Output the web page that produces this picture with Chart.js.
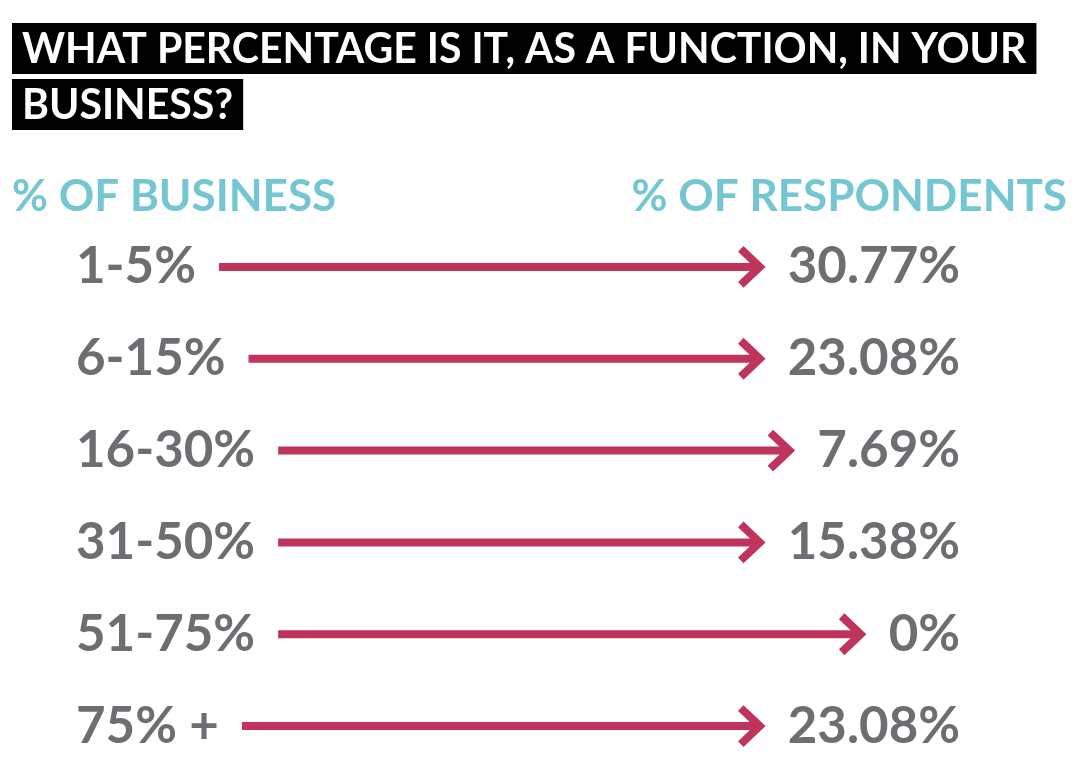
<!DOCTYPE html>
<html>
<head>
<meta charset="utf-8">
<script src="https://cdn.jsdelivr.net/npm/chart.js@4"></script>
<style>
  html, body { margin: 0; padding: 0; background: #fff; }
  #wrap { width: 1081px; height: 784px; position: relative; }
</style>
</head>
<body>
<div id="wrap"><canvas id="chart"></canvas></div>
<script>
const titleLines = ['WHAT PERCENTAGE IS IT, AS A FUNCTION, IN YOUR', 'BUSINESS?'];
const leftHeader = '% OF BUSINESS';
const rightHeader = '% OF RESPONDENTS';
const categories = ['1-5%', '6-15%', '16-30%', '31-50%', '51-75%', '75% +'];
const respondents = [30.77, 23.08, 7.69, 15.38, 0, 23.08];
const valueLabels = respondents.map((v) => v + '%');

const GRAY = '#6d6e71';
const TEAL = '#74c7d2';
const CRIMSON = '#be345a';
const FONT = 'Lato';
// small lineHeight keeps the axis from eating into the bottom padding
const ROW_FONT = { family: FONT, size: 51, weight: 'bold', lineHeight: 0.4 };

// black boxed title + teal column headers
const headerPlugin = {
  id: 'header',
  beforeDraw(chart) {
    const { ctx } = chart;
    ctx.save();
    ctx.font = `bold 46px ${FONT}`;
    // title line 1 spans roughly 1005px in the original
    const titleSize = Math.min(46, 46 * 1005 / ctx.measureText(titleLines[0]).width);
    ctx.font = `bold ${titleSize}px ${FONT}`;
    ctx.textBaseline = 'alphabetic';
    const boxes = [
      { top: 23, bottom: 74, base: 63 },
      { top: 79, bottom: 130, base: 119 },
    ];
    titleLines.forEach((line, i) => {
      const w = ctx.measureText(line).width;
      ctx.fillStyle = '#000';
      ctx.fillRect(12, boxes[i].top, w + 20, boxes[i].bottom - boxes[i].top);
      ctx.fillStyle = '#fff';
      ctx.textAlign = 'left';
      ctx.fillText(line, 22, boxes[i].base);
    });
    ctx.font = `bold 44px ${FONT}`;
    ctx.fillStyle = TEAL;
    ctx.textAlign = 'left';
    ctx.fillText(leftHeader, 12, 211);
    ctx.textAlign = 'right';
    ctx.fillText(rightHeader, 1067, 211);
    ctx.restore();
  },
};

// arrow from each category label to its value label
const arrowPlugin = {
  id: 'arrows',
  afterDatasetsDraw(chart) {
    const { ctx } = chart;
    const yL = chart.scales.y;
    const yR = chart.scales.y2;
    const gap = 23;
    ctx.save();
    ctx.font = `bold ${ROW_FONT.size}px ${FONT}`;
    ctx.strokeStyle = CRIMSON;
    ctx.lineWidth = 8;
    categories.forEach((cat, i) => {
      const y = yL.getPixelForValue(i);
      const x0 = yL.left + ctx.measureText(cat).width + gap;
      const x1 = yR.right - ctx.measureText(valueLabels[i]).width - gap;
      ctx.lineCap = 'butt';
      ctx.beginPath();
      ctx.moveTo(x0, y);
      ctx.lineTo(x1 - 5, y);
      ctx.stroke();
      ctx.lineJoin = 'miter';
      ctx.beginPath();
      ctx.moveTo(x1 - 24, y - 18);
      ctx.lineTo(x1 - 5, y);
      ctx.lineTo(x1 - 24, y + 18);
      ctx.stroke();
    });
    ctx.restore();
  },
};

new Chart(document.getElementById('chart'), {
  type: 'bar',
  data: {
    labels: categories,
    datasets: [{
      data: respondents,
      backgroundColor: 'rgba(0,0,0,0)',
      borderWidth: 0,
    }],
  },
  options: {
    indexAxis: 'y',
    responsive: true,
    maintainAspectRatio: false,
    animation: false,
    layout: {
      padding: { top: 221, bottom: 12, left: 76, right: 121 },
    },
    scales: {
      x: { display: false, min: 0, max: 100 },
      y: {
        type: 'category',
        position: 'left',
        grid: { display: false },
        border: { display: false },
        ticks: { color: GRAY, font: ROW_FONT, crossAlign: 'far', padding: 0 },
      },
      y2: {
        type: 'category',
        labels: valueLabels,
        position: 'right',
        grid: { display: false },
        border: { display: false },
        ticks: { color: GRAY, font: ROW_FONT, crossAlign: 'far', padding: 0 },
      },
    },
    plugins: {
      legend: { display: false },
      tooltip: { enabled: false },
    },
  },
  plugins: [headerPlugin, arrowPlugin],
});
</script>
</body>
</html>
